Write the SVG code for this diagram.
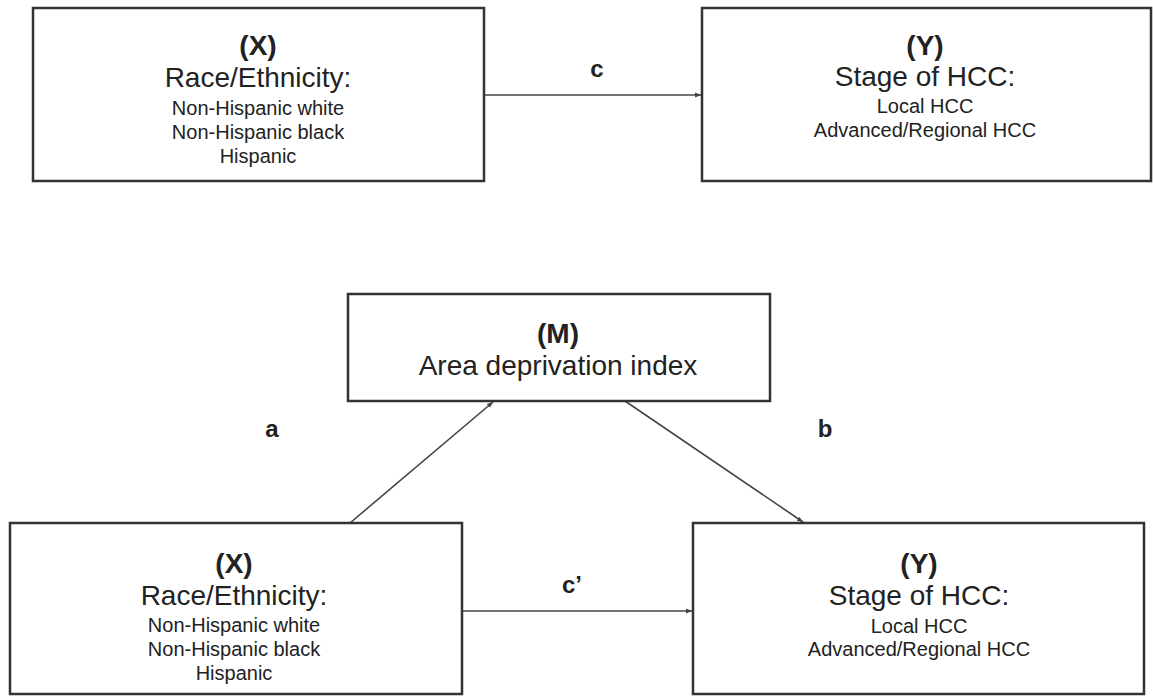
<svg xmlns="http://www.w3.org/2000/svg" width="1153" height="696" viewBox="0 0 1153 696">
<style>
.box{fill:#fff;stroke:#333;stroke-width:2.5}
.t{font-family:"Liberation Sans",Arial,sans-serif;fill:#222;text-anchor:middle}
.h{font-size:28px;font-weight:bold}
.m{font-size:28px}
.s{font-size:20px}
.lbl{font-family:"Liberation Sans",Arial,sans-serif;fill:#222;font-size:24px;font-weight:bold;text-anchor:middle}
.edge{stroke:#444;stroke-width:1.6;fill:none;marker-end:url(#ah)}
</style>
<defs>
<marker id="ah" viewBox="0 0 10 10" refX="10" refY="5" markerWidth="6" markerHeight="6" markerUnits="userSpaceOnUse" orient="auto">
<path d="M0,1 L10,5 L0,9 z" fill="#444"/>
</marker>
</defs>
<rect width="1153" height="696" fill="#fff"/>
<g id="connectors">
<line class="edge" x1="484" y1="95" x2="701" y2="95"/>
<line class="edge" x1="462" y1="611" x2="692" y2="611"/>
<line class="edge" x1="350" y1="523" x2="493" y2="402"/>
<line class="edge" x1="625" y1="401" x2="803" y2="522"/>
<text class="lbl" x="597" y="77">c</text>
<text class="lbl" x="572" y="593">c’</text>
<text class="lbl" x="272" y="437">a</text>
<text class="lbl" x="825" y="437">b</text>
</g>
<g id="x-top">
<rect class="box" x="33" y="8" width="451" height="173"/>
<text class="t h" x="258" y="55">(X)</text>
<text class="t m" x="258" y="87">Race/Ethnicity:</text>
<text class="t s" x="258" y="115">Non-Hispanic white</text>
<text class="t s" x="258" y="139">Non-Hispanic black</text>
<text class="t s" x="258" y="163">Hispanic</text>
</g>
<g id="y-top">
<rect class="box" x="702" y="8" width="449" height="173"/>
<text class="t h" x="925" y="55">(Y)</text>
<text class="t m" x="925" y="86">Stage of HCC:</text>
<text class="t s" x="925" y="113">Local HCC</text>
<text class="t s" x="925" y="137">Advanced/Regional HCC</text>
</g>
<g id="m">
<rect class="box" x="348" y="294" width="422" height="107"/>
<text class="t h" x="558" y="343">(M)</text>
<text class="t m" x="558" y="375">Area deprivation index</text>
</g>
<g id="x-bottom">
<rect class="box" x="10" y="523" width="452" height="171"/>
<text class="t h" x="234" y="573">(X)</text>
<text class="t m" x="234" y="605">Race/Ethnicity:</text>
<text class="t s" x="234" y="632">Non-Hispanic white</text>
<text class="t s" x="234" y="656">Non-Hispanic black</text>
<text class="t s" x="234" y="680">Hispanic</text>
</g>
<g id="y-bottom">
<rect class="box" x="693" y="523" width="451" height="171"/>
<text class="t h" x="919" y="573">(Y)</text>
<text class="t m" x="919" y="605">Stage of HCC:</text>
<text class="t s" x="919" y="633">Local HCC</text>
<text class="t s" x="919" y="656">Advanced/Regional HCC</text>
</g>
</svg>
